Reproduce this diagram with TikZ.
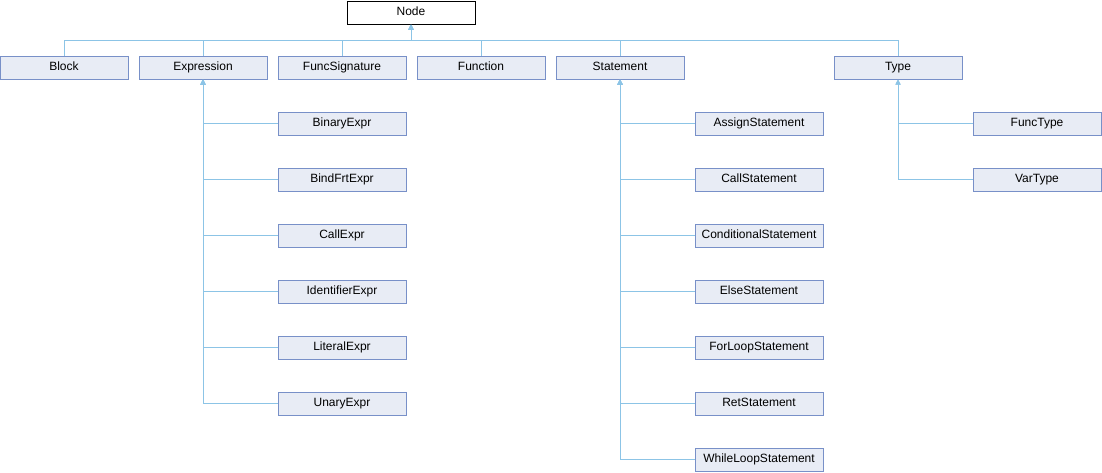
\documentclass[tikz,border=0pt]{standalone}
\usepackage{fontspec}
\setmainfont{Liberation Sans}
\usepackage{xcolor}
\definecolor{boxfill}{RGB}{232,236,245}
\definecolor{boxdraw}{RGB}{120,144,200}
\definecolor{edgeblue}{RGB}{140,196,230}
\usetikzlibrary{arrows.meta}
\newcommand{\widthbox}{128pt}
\newcommand{\heightbox}{23pt}
\newcommand{\rowpitch}{56}
\tikzset{
    common/.style={draw, rectangle, line width=1pt, inner sep=0pt,
        minimum width=\widthbox, minimum height=\heightbox,
        text height=8.6pt, text depth=2.4pt,
        font=\fontsize{12}{13}\selectfont},
    root/.style={common, draw=black, fill=white},
    cls/.style={common, draw=boxdraw, fill=boxfill},
    inherit/.style={edgeblue, line width=1pt, {Triangle[length=5pt,width=5pt]}-}
}
\begin{document}
\begin{tikzpicture}[x=1pt, y=1pt]
            \useasboundingbox (0,0) rectangle (1102,-472);

            \node[root] (Node) at (411,-12.5) {Node};
            \coordinate (bus) at (411,-40);

            \node[cls] (Block)         at (64,-67.5)  {Block};
            \node[cls] (Expression)    at (203,-67.5) {Expression};
            \node[cls] (FuncSignature) at (342,-67.5) {FuncSignature};
            \node[cls] (Function)      at (481,-67.5) {Function};
            \node[cls] (Statement)     at (620,-67.5) {Statement};
            \node[cls] (Type)          at (898,-67.5) {Type};

            \foreach \top in {Block, Expression, FuncSignature, Function, Statement, Type}
                \draw[inherit] (Node.south) -- (bus) -| (\top.north);

            \foreach \sub [count=\i] in {BinaryExpr, BindFrtExpr, CallExpr, IdentifierExpr, LiteralExpr, UnaryExpr} {
                \node[cls] (\sub) at (342,-67.5-\rowpitch*\i) {\sub};
                \draw[inherit] (Expression.south) |- (\sub.west);
            }

            \foreach \sub [count=\i] in {AssignStatement, CallStatement, ConditionalStatement, ElseStatement, ForLoopStatement, RetStatement, WhileLoopStatement} {
                \node[cls] (\sub) at (759,-67.5-\rowpitch*\i) {\sub};
                \draw[inherit] (Statement.south) |- (\sub.west);
            }

            \foreach \sub [count=\i] in {FuncType, VarType} {
                \node[cls] (\sub) at (1037,-67.5-\rowpitch*\i) {\sub};
                \draw[inherit] (Type.south) |- (\sub.west);
            }
        \end{tikzpicture}
\end{document}
